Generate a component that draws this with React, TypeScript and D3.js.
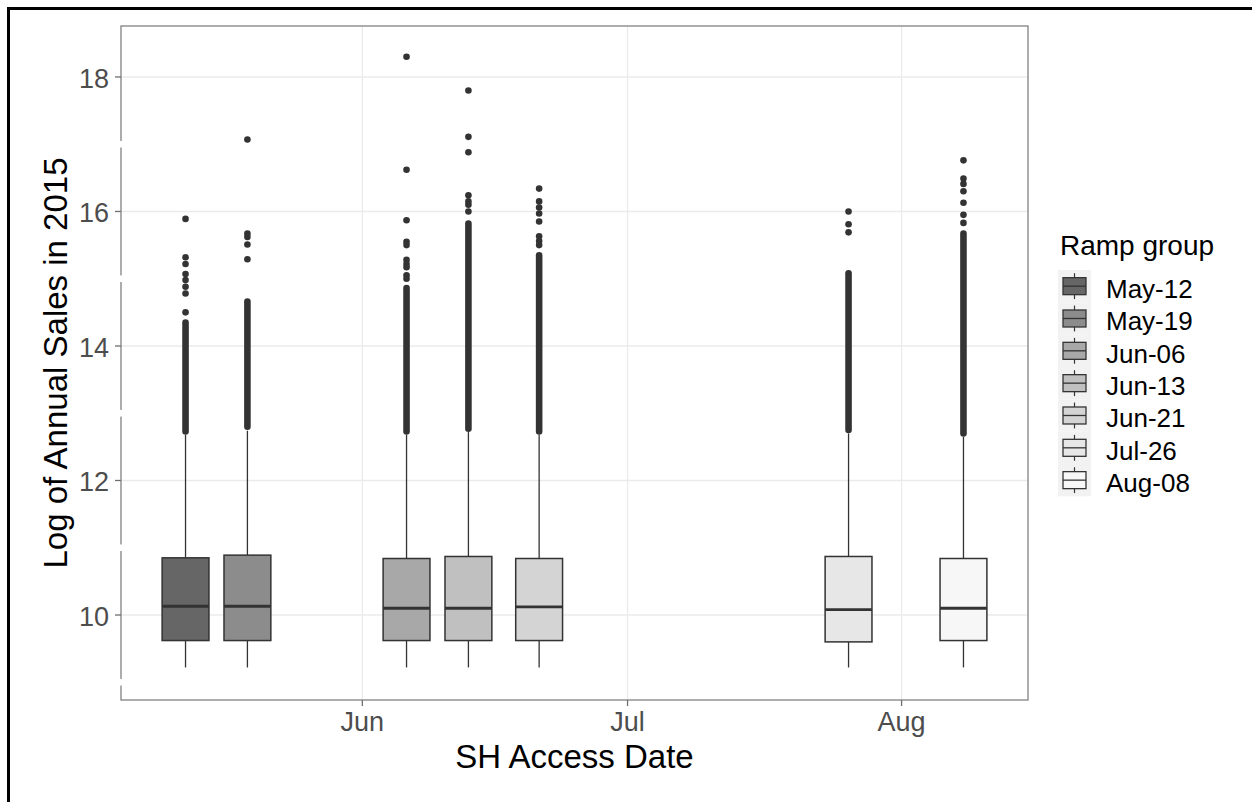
import React from "react";
import * as d3 from "d3";

// ---- data ----
const groups = ["May-12", "May-19", "Jun-06", "Jun-13", "Jun-21", "Jul-26", "Aug-08"];
const accessDates = ["2015-05-12", "2015-05-19", "2015-06-06", "2015-06-13", "2015-06-21", "2015-07-26", "2015-08-08"];
const fills = ["#666666", "#8C8C8C", "#A8A8A8", "#C0C0C0", "#D4D4D4", "#E7E7E7", "#F7F7F7"];
const q1 = [9.62, 9.62, 9.62, 9.62, 9.62, 9.6, 9.62];
const medians = [10.13, 10.13, 10.1, 10.1, 10.12, 10.08, 10.1];
const q3 = [10.85, 10.89, 10.84, 10.87, 10.84, 10.87, 10.84];
const whiskerLow = [9.22, 9.22, 9.22, 9.22, 9.22, 9.22, 9.22];
const whiskerHigh = [12.68, 12.74, 12.68, 12.72, 12.68, 12.7, 12.65];
// isolated outliers
const outlierPoints = [
  [15.89, 15.32, 15.22, 15.07, 14.98, 14.88, 14.78, 14.5],
  [17.07, 15.67, 15.62, 15.51, 15.29],
  [18.3, 16.62, 15.87, 15.55, 15.5, 15.28, 15.22, 15.17, 15.05, 15.0],
  [17.8, 17.11, 16.88, 16.24, 16.15, 16.1, 16.0],
  [16.34, 16.15, 16.06, 15.97, 15.85, 15.63, 15.56, 15.5],
  [16.0, 15.81, 15.69],
  [16.76, 16.49, 16.41, 16.3, 16.13, 15.95, 15.83],
];
// densely packed outliers, given as [lowest, highest]
const outlierRuns = [
  [12.73, 14.35],
  [12.8, 14.66],
  [12.73, 14.86],
  [12.77, 15.82],
  [12.73, 15.35],
  [12.75, 15.08],
  [12.7, 15.67],
];
const yTicks = [10, 12, 14, 16, 18];
const yMinor = [9, 11, 13, 15, 17];
const xTicks = ["2015-06-01", "2015-07-01", "2015-08-01"];
const xTickLabels = ["Jun", "Jul", "Aug"];
const yDomain = [8.736, 18.758];
const padDays = 7.3;
const boxDays = 5.3;

const W = 1252;
const H = 802;
const panel = { left: 121, right: 1028, top: 26, bottom: 700 };
const DAY = 86400000;
const parse = (s: string) => new Date(s + "T00:00:00Z");

export default function App() {
  const dates = accessDates.map(parse);
  const x = d3
    .scaleUtc()
    .domain([new Date(+dates[0] - padDays * DAY), new Date(+dates[dates.length - 1] + padDays * DAY)])
    .range([panel.left, panel.right]);
  const y = d3.scaleLinear().domain(yDomain).range([panel.bottom, panel.top]);
  const halfW = (x(new Date(+dates[0] + boxDays * DAY)) - x(dates[0])) / 2;
  const r = 3.3;
  const dark = "#333333";
  const font = "Liberation Sans, Arial, sans-serif";
  const keyH = 32.33;
  const keyTop = 270;
  const keyX0 = 1058;
  const keyX1 = 1091;
  const keyCx = (keyX0 + keyX1) / 2;

  return (
    <svg
      width={W}
      height={H}
      style={{ position: "absolute", left: 0, top: 0, display: "block", background: "#fff" }}
      fontFamily={font}
    >
      <rect x={0} y={0} width={W} height={H} fill="#fff" />
      {/* outer frame (top & left) */}
      <rect x={7} y={7} width={W - 7} height={3} fill="#000" />
      <rect x={7} y={7} width={3} height={H - 7} fill="#000" />

      {/* gridlines */}
      {yTicks.map((t) => (
        <line key={"gy" + t} x1={panel.left} x2={panel.right} y1={y(t)} y2={y(t)} stroke="#EBEBEB" strokeWidth={1.3} />
      ))}
      {xTicks.map((t) => (
        <line key={"gx" + t} x1={x(parse(t))} x2={x(parse(t))} y1={panel.top} y2={panel.bottom} stroke="#EBEBEB" strokeWidth={1.3} />
      ))}

      {/* boxes */}
      {groups.map((g, i) => {
        const cx = x(dates[i]);
        return (
          <g key={g}>
            <line x1={cx} x2={cx} y1={y(q3[i])} y2={y(whiskerHigh[i])} stroke={dark} strokeWidth={1.3} />
            <line x1={cx} x2={cx} y1={y(q1[i])} y2={y(whiskerLow[i])} stroke={dark} strokeWidth={1.3} />
            <rect
              x={cx - halfW}
              y={y(q3[i])}
              width={halfW * 2}
              height={y(q1[i]) - y(q3[i])}
              fill={fills[i]}
              stroke={dark}
              strokeWidth={1.5}
            />
            <line x1={cx - halfW} x2={cx + halfW} y1={y(medians[i])} y2={y(medians[i])} stroke={dark} strokeWidth={2.8} />
            <line
              x1={cx}
              x2={cx}
              y1={y(outlierRuns[i][0])}
              y2={y(outlierRuns[i][1])}
              stroke={dark}
              strokeWidth={r * 2}
              strokeLinecap="round"
            />
            {outlierPoints[i].map((v, j) => (
              <circle key={j} cx={cx} cy={y(v)} r={r} fill={dark} />
            ))}
          </g>
        );
      })}

      {/* panel border */}
      <rect
        x={panel.left}
        y={panel.top}
        width={panel.right - panel.left}
        height={panel.bottom - panel.top}
        fill="none"
        stroke="#8A8A8A"
        strokeWidth={1.4}
      />
      {yMinor.map((t) => (
        <rect key={"gap" + t} x={panel.left - 1.5} y={y(t) - 3.3} width={3} height={6.6} fill="#fff" />
      ))}

      {/* y axis */}
      {yTicks.map((t) => (
        <g key={"yt" + t}>
          <line x1={panel.left - 6} x2={panel.left} y1={y(t)} y2={y(t)} stroke="#6E6E6E" strokeWidth={1.3} />
          <text x={109} y={y(t) + 11} textAnchor="end" fontSize={27} fill="#4D4D4D">
            {t}
          </text>
        </g>
      ))}
      {/* x axis */}
      {xTicks.map((t, i) => (
        <g key={"xt" + t}>
          <line x1={x(parse(t))} x2={x(parse(t))} y1={panel.bottom} y2={panel.bottom + 6} stroke="#6E6E6E" strokeWidth={1.3} />
          <text x={x(parse(t))} y={731} textAnchor="middle" fontSize={27} fill="#4D4D4D">
            {xTickLabels[i]}
          </text>
        </g>
      ))}

      {/* titles */}
      <text x={(panel.left + panel.right) / 2} y={768} textAnchor="middle" fontSize={33} fill="#000">
        SH Access Date
      </text>
      <text
        transform={`translate(67, ${(panel.top + panel.bottom) / 2}) rotate(-90)`}
        textAnchor="middle"
        fontSize={33}
        fill="#000"
      >
        Log of Annual Sales in 2015
      </text>

      {/* legend */}
      <text x={1060} y={255} fontSize={28} fill="#000">
        Ramp group
      </text>
      {groups.map((g, i) => {
        const cy = keyTop + keyH * (i + 0.5);
        return (
          <g key={"lg" + g}>
            <rect x={keyX0} y={keyTop + keyH * i} width={keyX1 - keyX0} height={keyH} fill="#F2F2F2" />
            <line x1={keyCx} x2={keyCx} y1={cy - keyH * 0.4} y2={cy + keyH * 0.4} stroke={dark} strokeWidth={1.2} />
            <rect x={keyCx - 11.5} y={cy - 8.5} width={23} height={17} fill={fills[i]} stroke={dark} strokeWidth={1.3} />
            <line x1={keyCx - 11.5} x2={keyCx + 11.5} y1={cy} y2={cy} stroke={dark} strokeWidth={1.3} />
            <text x={1106} y={cy + 12} fontSize={26} fill="#000">
              {g}
            </text>
          </g>
        );
      })}
    </svg>
  );
}
